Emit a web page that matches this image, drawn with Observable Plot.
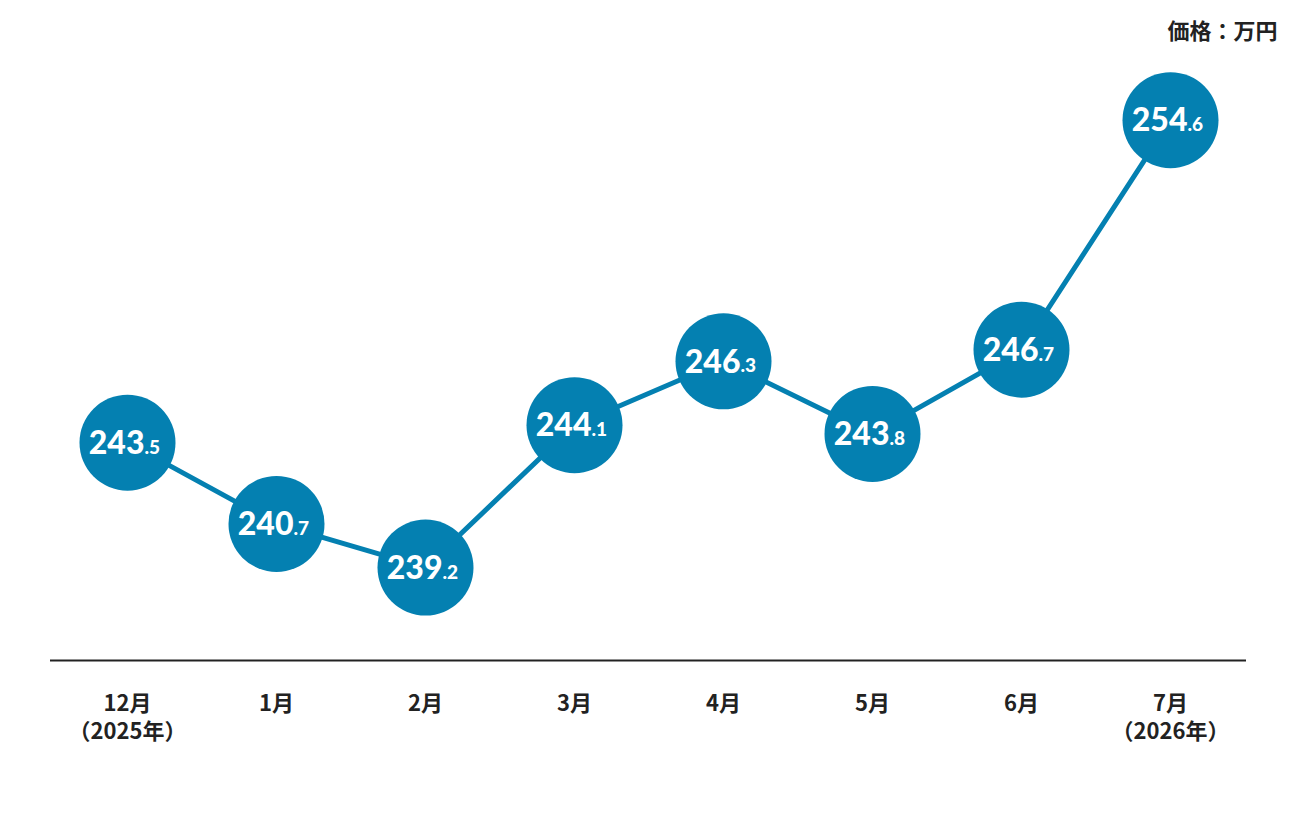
<!DOCTYPE html>
<html><head><meta charset="utf-8">
<script src="https://cdn.jsdelivr.net/npm/d3@7"></script>
<script src="https://cdn.jsdelivr.net/npm/@observablehq/plot@0.6"></script>
<style>body{margin:0;background:#fff;}</style>
</head><body><div id="chart"></div>
<script>
const months = ["12月","1月","2月","3月","4月","5月","6月","7月"];
const tickLabels = ["12月\n（2025年）","1月","2月","3月","4月","5月","6月","7月\n（2026年）"];
const values = [243.5, 240.7, 239.2, 244.1, 246.3, 243.8, 246.7, 254.6];
const unitLabel = "価格：万円";

const data = months.map((m, i) => ({month: m, value: values[i]}));
const intPart = d => d.value.toFixed(1).split(".")[0];
const decPart = d => "." + d.value.toFixed(1).split(".")[1];
const blue = "#0480b1";
const numFont = "Lato, 'Noto Sans', sans-serif";
const jpFont = "'Noto Sans CJK JP', sans-serif";

const chart = Plot.plot({
  width: 1296, height: 816,
  marginLeft: 50, marginRight: 50, marginTop: 79, marginBottom: 156,
  style: {fontFamily: jpFont, background: "#fff"},
  x: {type: "point", domain: months, padding: 0.5, label: null},
  y: {domain: [236, 256], axis: null},
  marks: [
    Plot.ruleY([236], {stroke: "#222", strokeWidth: 2}),
    Plot.axisX({tickSize: 0, tickPadding: 31, fontSize: 22, fontWeight: 700, lineHeight: 1.27,
      fill: "#222", tickFormat: (d) => tickLabels[months.indexOf(d)], label: null}),
    Plot.line(data, {x: "month", y: "value", stroke: blue, strokeWidth: 5}),
    Plot.dot(data, {x: "month", y: "value", r: 48, fill: blue, stroke: "none"}),
    Plot.text(data, {x: "month", y: "value", text: intPart, textAnchor: "end", dx: 17, dy: 1,
      fontSize: 32, fontWeight: 900, fill: "white", fontFamily: numFont}),
    Plot.text(data, {x: "month", y: "value", text: decPart, textAnchor: "start", dx: 17, dy: 5,
      fontSize: 19, fontWeight: 900, fill: "white", fontFamily: numFont}),
    Plot.text([unitLabel], {frameAnchor: "top-right", dx: 31, dy: -48, textAnchor: "end", lineAnchor: "middle",
      fontSize: 22, fontWeight: 700, fill: "#222"})
  ]
});
document.getElementById("chart").append(chart);
</script></body></html>
